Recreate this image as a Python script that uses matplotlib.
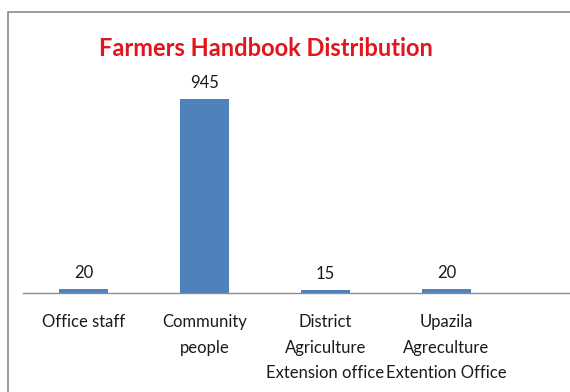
import matplotlib
matplotlib.use("Agg")
import matplotlib.pyplot as plt
from matplotlib.patches import Rectangle

categories = ["Office staff", "Community\npeople", "District\nAgriculture\nExtension office", "Upazila\nAgreculture\nExtention Office"]
values = [20, 945, 15, 20]
title = "Farmers Handbook Distribution"

plt.rcParams['font.family'] = ['Lato', 'DejaVu Sans']

W, H = 570, 392
fig = plt.figure(figsize=(W/100, H/100), dpi=100)
fig.patch.set_facecolor("white")

# outer chart border
fig.patches.append(Rectangle((8/W, -0.05), 1.2, 1 - 12/H + 0.05, transform=fig.transFigure,
                             fill=False, edgecolor="#8a8a8a", linewidth=1.2))

ax = fig.add_axes([23/W, 1 - 293/H, (W - 23)/W, (293 - 60)/H])
x = list(range(len(categories)))
ax.bar(x, values, width=0.4, color="#4F81BD")
ax.set_xlim(-0.5, 4.02)
ax.set_ylim(0, 945 * 233 / 194)
for s in ["top", "right", "left"]:
    ax.spines[s].set_visible(False)
ax.spines["bottom"].set_color("#8c8c8c")
ax.spines["bottom"].set_linewidth(1.0)
ax.set_yticks([])
ax.set_xticks(x)
ax.set_xticklabels(categories, fontsize=12, color="#1a1a1a", linespacing=1.75, va="top")
ax.tick_params(axis="x", length=0, pad=15)
for xi, v in zip(x, values):
    ax.annotate(str(v), (xi, v), xytext=(0, 6), textcoords="offset points",
                ha="center", va="bottom", fontsize=12, color="#1a1a1a")

fig.text(266/W, 1 - 48/H, title, ha="center", va="center", fontsize=17,
         fontweight="bold", color="#E3141B")

fig.savefig("out.png", dpi=100)
